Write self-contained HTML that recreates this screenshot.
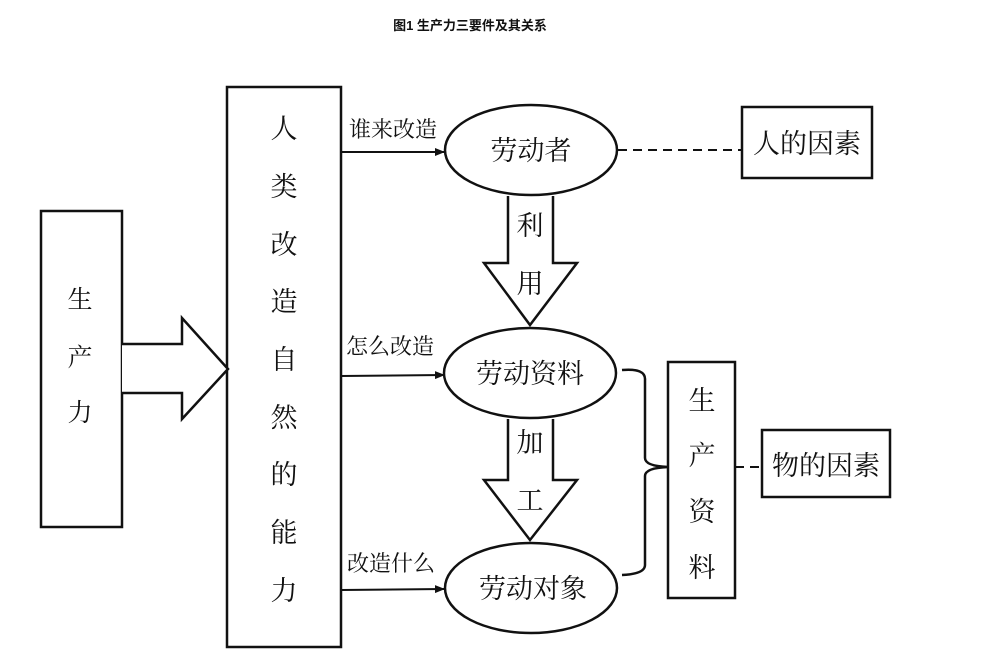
<!DOCTYPE html>
<html><head><meta charset="utf-8"><style>
body{margin:0;background:#fff;}
svg text{font-family:"Liberation Serif","Noto Serif CJK SC",serif;fill:#111;}
svg text.t{font-family:"Liberation Sans","Noto Sans CJK SC",sans-serif;}
</style></head><body>
<svg width="989" height="666" viewBox="0 0 989 666" xmlns="http://www.w3.org/2000/svg">
<defs><marker id="a" markerWidth="10" markerHeight="8" refX="9" refY="4" orient="auto" markerUnits="userSpaceOnUse"><path d="M0,0 L10,4 L0,8 z" fill="#111"/></marker></defs>
<text class="t" x="470" y="30" font-size="13" font-weight="bold" text-anchor="middle">图1 生产力三要件及其关系</text>
<g stroke="#111" stroke-width="2.5" fill="none">
<rect x="41" y="211" width="81" height="316"/>
<rect x="227" y="87" width="114" height="560"/>
<path d="M122,344 H182 V318 L228,369 L182,419 V393 H122" fill="#fff"/>
<rect x="742" y="107" width="130" height="71"/>
<rect x="668" y="362" width="67" height="236"/>
<rect x="762" y="430" width="128" height="67"/>
<ellipse cx="531" cy="150" rx="86" ry="45"/>
<ellipse cx="530" cy="373" rx="86" ry="45"/>
<ellipse cx="531" cy="588" rx="86" ry="45"/>
<path d="M508,196 V263 H484 L530,325 L577,263 H553 V196"/>
<path d="M508,419 V480 H484 L530,540 L577,480 H553 V419"/>
<path d="M622,370 Q646,368 645,380 V458 Q645,466 668,467 Q645,468 645,476 V565 Q645,574 622,575"/>
</g>
<g stroke="#111" stroke-width="2" fill="none">
<line x1="341" y1="152" x2="444" y2="152" marker-end="url(#a)"/>
<line x1="341" y1="376" x2="444" y2="375" marker-end="url(#a)"/>
<line x1="341" y1="590" x2="444" y2="589" marker-end="url(#a)"/>
<line x1="618" y1="150" x2="742" y2="150" stroke-dasharray="9,6"/>
<line x1="735" y1="467" x2="762" y2="467" stroke-dasharray="9,6"/>
</g>
<g font-size="25" text-anchor="middle">
<text x="80" y="308">生</text><text x="80" y="366">产</text><text x="80" y="421">力</text>
</g>
<g font-size="27" text-anchor="middle">
<text x="284" y="138">人</text><text x="284" y="196">类</text><text x="284" y="254">改</text><text x="284" y="311">造</text><text x="284" y="369">自</text><text x="284" y="427">然</text><text x="284" y="484">的</text><text x="284" y="542">能</text><text x="284" y="600">力</text>
</g>
<g font-size="22">
<text x="349" y="137">谁来改造</text><text x="346" y="354">怎么改造</text><text x="347" y="571">改造什么</text>
</g>
<g font-size="27" text-anchor="middle">
<text x="531" y="160">劳动者</text><text x="530" y="383">劳动资料</text><text x="533" y="598">劳动对象</text>
<text x="530" y="235">利</text><text x="530" y="293">用</text>
<text x="530" y="452">加</text><text x="530" y="510">工</text>
<text x="807" y="153">人的因素</text><text x="826" y="475">物的因素</text>
<text x="702" y="410">生</text><text x="702" y="465">产</text><text x="702" y="521">资</text><text x="702" y="577">料</text>
</g>
</svg>
</body></html>
